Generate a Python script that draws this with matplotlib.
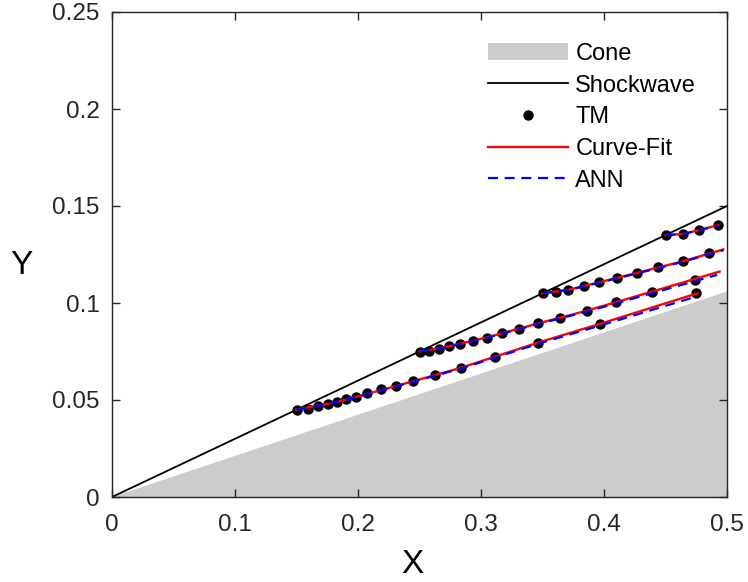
import numpy as np
import matplotlib
matplotlib.use("Agg")
from matplotlib import pyplot as plt

plt.rcParams['font.family'] = ['Liberation Sans', 'DejaVu Sans']

# cone surface and shock line
cone_x = [0.0, 0.5, 0.5]
cone_y = [0.0, 0.106, 0.0]
shock_x = [0.0, 0.5]
shock_y = [0.0, 0.15]

# TM streamline points
tm_a_x = [0.150, 0.159, 0.1675, 0.1756, 0.183, 0.190, 0.198, 0.207, 0.2187, 0.231,
          0.2447, 0.2626, 0.2837, 0.311, 0.346, 0.397, 0.475]
tm_a_y = [0.045, 0.0455, 0.0469, 0.0479, 0.0490, 0.0505, 0.0515, 0.0536, 0.0557, 0.0572,
          0.0598, 0.0629, 0.0665, 0.0722, 0.0794, 0.0892, 0.1052]
tm_b_x = [0.250, 0.2581, 0.2656, 0.2737, 0.2829, 0.2933, 0.3045, 0.3168, 0.3311, 0.3466,
          0.3642, 0.3858, 0.4098, 0.4388, 0.4740]
tm_b_y = [0.075, 0.0752, 0.0763, 0.0776, 0.0789, 0.0804, 0.0822, 0.0844, 0.0866, 0.0895,
          0.0923, 0.0960, 0.1005, 0.1058, 0.1121]
tm_c_x = [0.350, 0.3610, 0.3711, 0.3837, 0.3963, 0.4106, 0.4266, 0.4441, 0.4640, 0.4856]
tm_c_y = [0.105, 0.1055, 0.1068, 0.1088, 0.1107, 0.1130, 0.1155, 0.1184, 0.1215, 0.1256]
tm_d_x = [0.450, 0.4640, 0.4775, 0.4929]
tm_d_y = [0.135, 0.1356, 0.1376, 0.1402]

# curve-fit lines
fit_a_x = [0.150, 0.183, 0.231, 0.2837, 0.346, 0.397, 0.476]
fit_a_y = [0.045, 0.0490, 0.0572, 0.0666, 0.0795, 0.0893, 0.1050]
fit_b_x = [0.250, 0.2737, 0.3045, 0.3466, 0.3858, 0.4388, 0.494]
fit_b_y = [0.075, 0.0776, 0.0822, 0.0895, 0.0960, 0.1058, 0.1162]
fit_c_x = [0.350, 0.3711, 0.3963, 0.4266, 0.4640, 0.497]
fit_c_y = [0.105, 0.1068, 0.1107, 0.1155, 0.1215, 0.1276]
fit_d_x = [0.450, 0.4640, 0.4775, 0.4929]
fit_d_y = [0.135, 0.1356, 0.1376, 0.1402]

# ANN lines
ann_a_x = [0.150, 0.183, 0.231, 0.2837, 0.346, 0.397, 0.476]
ann_a_y = [0.045, 0.0489, 0.0570, 0.0662, 0.0789, 0.0884, 0.1035]
ann_b_x = [0.250, 0.2737, 0.3045, 0.3466, 0.3858, 0.4388, 0.492]
ann_b_y = [0.075, 0.0775, 0.0820, 0.0892, 0.0955, 0.1050, 0.1145]
ann_c_x = [0.350, 0.3711, 0.3963, 0.4266, 0.4640, 0.497]
ann_c_y = [0.105, 0.1067, 0.1105, 0.1152, 0.1212, 0.1272]
ann_d_x = [0.450, 0.4640, 0.4775, 0.4929]
ann_d_y = [0.135, 0.1355, 0.1375, 0.1400]

x_ticks = [0, 0.1, 0.2, 0.3, 0.4, 0.5]
x_labels = ['0', '0.1', '0.2', '0.3', '0.4', '0.5']
y_ticks = [0, 0.05, 0.1, 0.15, 0.2, 0.25]
y_labels = ['0', '0.05', '0.1', '0.15', '0.2', '0.25']

fig = plt.figure(figsize=(7.48, 5.82), dpi=100)
ax = fig.add_axes([112/748, 1-497/582, 615/748, 485/582])

ax.fill(cone_x, cone_y, color=(0.8, 0.8, 0.8), lw=0, label='Cone', zorder=1)
ax.plot(shock_x, shock_y, color='k', lw=1.3, label='Shockwave', zorder=2)

tm = [(tm_a_x, tm_a_y), (tm_b_x, tm_b_y), (tm_c_x, tm_c_y), (tm_d_x, tm_d_y)]
fits = [(fit_a_x, fit_a_y), (fit_b_x, fit_b_y), (fit_c_x, fit_c_y), (fit_d_x, fit_d_y)]
anns = [(ann_a_x, ann_a_y), (ann_b_x, ann_b_y), (ann_c_x, ann_c_y), (ann_d_x, ann_d_y)]

for i, (xs, ys) in enumerate(tm):
    ax.plot(xs, ys, 'o', color='k', ms=6.5, label='TM' if i == 0 else None, zorder=3)
for i, (xs, ys) in enumerate(fits):
    ax.plot(xs, ys, '-', color='red', lw=1.7, label='Curve-Fit' if i == 0 else None, zorder=4)
for i, (xs, ys) in enumerate(anns):
    ax.plot(xs, ys, color='blue', lw=1.6, linestyle=(0, (4.5, 3)),
            label='ANN' if i == 0 else None, zorder=5)

ax.set_xlim(0, 0.5)
ax.set_ylim(0, 0.25)
ax.set_xticks(x_ticks)
ax.set_xticklabels(x_labels)
ax.set_yticks(y_ticks)
ax.set_yticklabels(y_labels)
ax.tick_params(direction='in', length=6, width=1, top=True, right=True,
               labelsize=17.5, colors=(0.15, 0.15, 0.15))
ax.tick_params(axis='x', pad=12)
ax.tick_params(axis='y', pad=9)
for s in ax.spines.values():
    s.set_color((0.15, 0.15, 0.15))
    s.set_linewidth(1.0)

ax.set_xlabel('X', fontsize=24, va='center')
ax.set_ylabel('Y', fontsize=24, rotation=0, va='center', ha='center')
ax.xaxis.set_label_coords(0.489, -0.14)
ax.yaxis.set_label_coords(-0.148, 0.478)

leg = ax.legend(loc='upper left', bbox_to_anchor=(488/748, 1-43/582),
                bbox_transform=fig.transFigure, frameon=False, fontsize=17,
                handlelength=3.4, handletextpad=0.3, labelspacing=0.41,
                borderpad=0, borderaxespad=0, markerscale=1.0)

fig.savefig('out.png', dpi=100)
